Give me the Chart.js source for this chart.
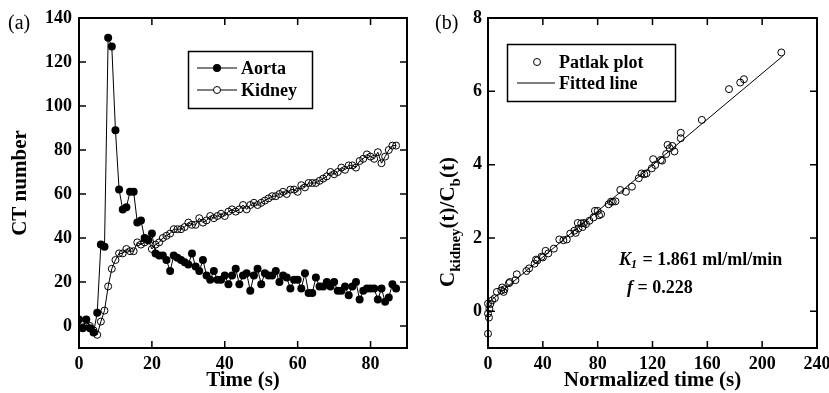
<!DOCTYPE html>
<html>
<head>
<meta charset="utf-8">
<script src="https://cdn.jsdelivr.net/npm/chart.js@4.4.1/dist/chart.umd.min.js"></script>
<style>
  body { margin: 0; background: #fff; }
  #wrap { position: relative; width: 829px; height: 393px; overflow: hidden; }
  canvas { position: absolute; top: 0; }
  #left { left: 0; }
  #right { left: 420px; }
</style>
</head>
<body>
<div id="wrap">
  <canvas id="left" width="420" height="393"></canvas>
  <canvas id="right" width="409" height="393"></canvas>
</div>
<script>
// (a) time activity curves
const time = [0, 1, 2, 3, 4, 5, 6, 7, 8, 9, 10, 11, 12, 13, 14, 15, 16, 17, 18, 19,
  20, 21, 22, 23, 24, 25, 26, 27, 28, 29, 30, 31, 32, 33, 34, 35, 36, 37, 38, 39,
  40, 41, 42, 43, 44, 45, 46, 47, 48, 49, 50, 51, 52, 53, 54, 55, 56, 57, 58, 59,
  60, 61, 62, 63, 64, 65, 66, 67, 68, 69, 70, 71, 72, 73, 74, 75, 76, 77, 78, 79,
  80, 81, 82, 83, 84, 85, 86, 87];
const aorta = [3, -1, 3, -1, -3, 6, 37, 36, 131, 127, 89, 62, 53, 54, 61, 61, 47, 48, 40, 39,
  42, 33, 32, 32, 30, 25, 32, 31, 30, 29, 28, 33, 27, 25, 30, 23, 21, 25, 21, 21,
  23, 19, 23, 26, 19, 23, 24, 16, 23, 26, 19, 24, 23, 23, 25, 20, 23, 22, 17, 21,
  21, 17, 24, 15, 15, 22, 18, 18, 20, 18, 20, 16, 16, 18, 14, 18, 20, 12, 16, 17,
  17, 17, 12, 17, 11, 13, 19, 17];
const kidney = [-0.5, 1, 0, 0, -2, -4, 2, 7, 18, 26, 30, 33, 33, 35, 34, 34, 38, 37, 38, 39,
  35, 37, 38, 40, 41, 42, 44, 44, 44, 45, 47, 46, 46, 49, 47, 48, 50, 49, 50, 51,
  50, 52, 53, 52, 53, 55, 53, 55, 56, 55, 56, 57, 58, 59, 59, 60, 61, 60, 62, 62,
  61, 64, 63, 65, 65, 65, 66, 67, 68, 70, 69, 70, 72, 71, 73, 73, 72, 75, 76, 78,
  77, 76, 79, 74, 77, 80, 82, 82];
const timeTicks = [0, 20, 40, 60, 80];
const ctTicks = [0, 20, 40, 60, 80, 100, 120, 140];

// (b) Patlak plot
const normTime = [0, 0, 0.7, 0, 1, 1.7, 3, 5, 6.5, 9.7, 10.4, 11.4, 12, 15.3, 16, 20, 21,
  28, 30, 34, 35, 36, 39, 40, 42, 44, 48, 52, 55, 57.5, 60, 63, 64, 65.5, 66, 68, 69, 70,
  71.5, 74, 77, 78, 80, 81, 82.5, 88, 89.7, 91, 93, 96.5, 100.6, 105, 110, 112, 114,
  115.6, 119.5, 120.5, 122, 126, 127, 130, 131, 132.6, 134.5, 136, 140.6, 140.6, 156,
  175.8, 184, 186.7, 214];
const ratio = [-0.61, -0.06, -0.17, 0.21, 0.07, 0.2, 0.3, 0.36, 0.53, 0.57, 0.65, 0.53,
  0.6, 0.77, 0.8, 0.85, 1.01, 1.1, 1.17, 1.3, 1.41, 1.39, 1.49, 1.47, 1.65, 1.58, 1.71,
  1.96, 1.94, 1.96, 2.12, 2.2, 2.14, 2.41, 2.26, 2.4, 2.3, 2.41, 2.38, 2.47, 2.56, 2.74,
  2.74, 2.62, 2.65, 2.92, 2.99, 2.99, 3.0, 3.31, 3.26, 3.4, 3.63, 3.76, 3.74, 3.76, 3.9,
  4.15, 3.99, 4.13, 4.11, 4.29, 4.54, 4.45, 4.51, 4.36, 4.87, 4.72, 5.22, 6.06, 6.24,
  6.33, 7.06];
const fitX = [0, 215];
const fitY = [0.23, 6.96];
const normTicks = [0, 40, 80, 120, 160, 200, 240];
const ratioTicks = [0, 2, 4, 6, 8];

const serif = "'Liberation Serif', 'Times New Roman', serif";
Chart.defaults.font.family = serif;
Chart.defaults.color = '#000';

function fixSize(size, horizontal) {
  return function (scale) {
    if (horizontal) scale.height = size; else scale.width = size;
    scale.paddingLeft = scale.paddingRight = scale.paddingTop = scale.paddingBottom = 0;
  };
}
function useTicks(values) {
  return function (scale) { scale.ticks = values.map(v => ({ value: v })); };
}
function pairs(xs, ys) {
  return xs.map((x, i) => ({ x: x, y: ys[i] }));
}

// frame with inward ticks on all four sides
const framePlugin = {
  id: 'frame',
  afterDraw(chart) {
    const { ctx, chartArea: a, scales } = chart;
    ctx.save();
    ctx.strokeStyle = '#000';
    ctx.lineWidth = 1.5;
    ctx.beginPath();
    scales.x.ticks.forEach(t => {
      const px = scales.x.getPixelForValue(t.value);
      ctx.moveTo(px, a.bottom); ctx.lineTo(px, a.bottom - 7);
      ctx.moveTo(px, a.top); ctx.lineTo(px, a.top + 7);
    });
    scales.y.ticks.forEach(t => {
      const py = scales.y.getPixelForValue(t.value);
      ctx.moveTo(a.left, py); ctx.lineTo(a.left + 7, py);
      ctx.moveTo(a.right, py); ctx.lineTo(a.right - 7, py);
    });
    ctx.stroke();
    ctx.lineWidth = 2;
    ctx.strokeRect(a.left, a.top, a.right - a.left, a.bottom - a.top);
    ctx.restore();
  }
};

const bold18 = "bold 18px " + serif;

const leftText = {
  id: 'leftText',
  afterDraw(chart) {
    const ctx = chart.ctx;
    ctx.save();
    ctx.fillStyle = '#000';
    ctx.strokeStyle = '#000';
    ctx.textBaseline = 'middle';
    ctx.font = "20px " + serif;
    ctx.fillText('(a)', 8, 24);
    // legend
    ctx.lineWidth = 1.5;
    ctx.strokeRect(188.5, 51.5, 124, 57);
    ctx.lineWidth = 1;
    ctx.beginPath();
    ctx.moveTo(197, 68); ctx.lineTo(237, 68);
    ctx.moveTo(197, 90); ctx.lineTo(237, 90);
    ctx.stroke();
    ctx.beginPath(); ctx.arc(217, 68, 4, 0, Math.PI * 2); ctx.fill();
    ctx.fillStyle = '#fff';
    ctx.beginPath(); ctx.arc(217, 90, 3.5, 0, Math.PI * 2); ctx.fill(); ctx.stroke();
    ctx.fillStyle = '#000';
    ctx.font = bold18;
    ctx.fillText('Aorta', 241, 69);
    ctx.fillText('Kidney', 241, 91);
    ctx.restore();
  }
};

const rightText = {
  id: 'rightText',
  afterDraw(chart) {
    const ctx = chart.ctx;
    ctx.save();
    ctx.fillStyle = '#000';
    ctx.strokeStyle = '#000';
    ctx.textBaseline = 'middle';
    ctx.font = "20px " + serif;
    ctx.fillText('(b)', 15, 24);
    // legend
    ctx.lineWidth = 1.5;
    ctx.strokeRect(87.5, 44.5, 168, 57);
    ctx.lineWidth = 1;
    ctx.beginPath(); ctx.arc(117, 62, 3.5, 0, Math.PI * 2); ctx.stroke();
    ctx.beginPath(); ctx.moveTo(97, 83); ctx.lineTo(135, 83); ctx.stroke();
    ctx.font = bold18;
    ctx.fillText('Patlak plot', 139, 63);
    ctx.fillText('Fitted line', 139, 84);
    // annotation
    let x = 199;
    ctx.font = "italic bold 18px " + serif;
    ctx.fillText('K', x, 260); x += ctx.measureText('K').width;
    ctx.font = "italic bold 12px " + serif;
    ctx.fillText('1', x, 265); x += ctx.measureText('1').width + 1;
    ctx.font = bold18;
    ctx.fillText(' = 1.861 ml/ml/min', x, 260);
    x = 207;
    ctx.font = "italic bold 18px " + serif;
    ctx.fillText('f', x, 288); x += ctx.measureText('f').width;
    ctx.font = bold18;
    ctx.fillText(' = 0.228', x, 288);
    // y axis title with subscripts
    const parts = [['C', 21, 0], ['kidney', 15, 6], ['(t)/C', 21, 0], ['b', 15, 6], ['(t)', 21, 0]];
    let total = 0;
    parts.forEach(p => { ctx.font = "bold " + p[1] + "px " + serif; total += ctx.measureText(p[0]).width; });
    ctx.translate(27, 222);
    ctx.rotate(-Math.PI / 2);
    let pos = -total / 2;
    ctx.textBaseline = 'alphabetic';
    parts.forEach(p => {
      ctx.font = "bold " + p[1] + "px " + serif;
      ctx.fillText(p[0], pos, 7 + p[2]);
      pos += ctx.measureText(p[0]).width;
    });
    ctx.restore();
  }
};

const tickFont = { size: 18, weight: 'bold', family: serif };
const titleFont = { size: 21, weight: 'bold', family: serif };

new Chart(document.getElementById('left'), {
  type: 'line',
  data: {
    datasets: [
      {
        label: 'Aorta',
        data: pairs(time, aorta),
        borderColor: '#000',
        backgroundColor: '#000',
        borderWidth: 1,
        pointRadius: 4,
        pointBorderWidth: 0,
        tension: 0
      },
      {
        label: 'Kidney',
        data: pairs(time, kidney),
        borderColor: '#000',
        backgroundColor: 'rgba(255,255,255,0)',
        borderWidth: 1,
        pointRadius: 3.5,
        pointBorderWidth: 1,
        tension: 0
      }
    ]
  },
  options: {
    responsive: false,
    animation: false,
    devicePixelRatio: 1,
    layout: { padding: { top: 18, right: 13, left: 0, bottom: 0 } },
    plugins: { legend: { display: false }, tooltip: { enabled: false } },
    scales: {
      x: {
        type: 'linear', min: 0, max: 90,
        afterBuildTicks: useTicks(timeTicks),
        afterFit: fixSize(45, true),
        grid: { display: false, drawTicks: false },
        border: { display: false },
        ticks: { font: tickFont, padding: 6, maxRotation: 0 },
        title: { display: true, text: 'Time (s)', font: titleFont, padding: 0 }
      },
      y: {
        type: 'linear', min: -10, max: 140,
        afterBuildTicks: useTicks(ctTicks),
        afterFit: fixSize(79, false),
        grid: { display: false, drawTicks: false },
        border: { display: false },
        ticks: { font: tickFont, padding: 7 },
        title: { display: true, text: 'CT number', font: titleFont, padding: { top: 8, bottom: 0 } }
      }
    }
  },
  plugins: [framePlugin, leftText]
});

new Chart(document.getElementById('right'), {
  type: 'scatter',
  data: {
    datasets: [
      {
        label: 'Patlak plot',
        data: pairs(normTime, ratio),
        borderColor: '#000',
        backgroundColor: 'rgba(255,255,255,0)',
        pointRadius: 3.5,
        pointBorderWidth: 1,
        showLine: false,
        clip: false
      },
      {
        label: 'Fitted line',
        type: 'line',
        data: pairs(fitX, fitY),
        borderColor: '#000',
        borderWidth: 1,
        pointRadius: 0
      }
    ]
  },
  options: {
    responsive: false,
    animation: false,
    devicePixelRatio: 1,
    layout: { padding: { top: 18, right: 12, left: 0, bottom: 0 } },
    plugins: { legend: { display: false }, tooltip: { enabled: false } },
    scales: {
      x: {
        type: 'linear', min: 0, max: 240,
        afterBuildTicks: useTicks(normTicks),
        afterFit: fixSize(45, true),
        grid: { display: false, drawTicks: false },
        border: { display: false },
        ticks: { font: tickFont, padding: 6, maxRotation: 0 },
        title: { display: true, text: 'Normalized time (s)', font: titleFont, padding: 0 }
      },
      y: {
        type: 'linear', min: -1, max: 8,
        afterBuildTicks: useTicks(ratioTicks),
        afterFit: fixSize(68, false),
        grid: { display: false, drawTicks: false },
        border: { display: false },
        ticks: { font: tickFont, padding: 6 },
        title: { display: false }
      }
    }
  },
  plugins: [framePlugin, rightText]
});
</script>
</body>
</html>
